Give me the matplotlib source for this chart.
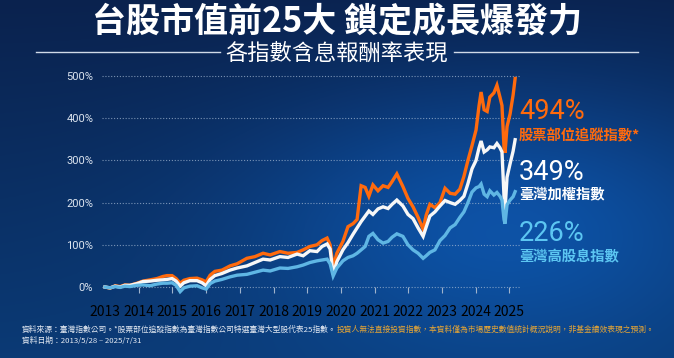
import numpy as np
import matplotlib
matplotlib.use("Agg")
import matplotlib.pyplot as plt
from matplotlib.lines import Line2D

plt.rcParams["font.family"] = ["Noto Sans CJK TC", "DejaVu Sans"]

# decimal years, 2013/5/28 -> 2025/7/31
dates = [2013.40, 2013.55, 2013.70, 2013.85, 2013.99, 2014.14, 2014.35, 2014.53,
         2014.74, 2014.94, 2015.12, 2015.24, 2015.39, 2015.51, 2015.63, 2015.74,
         2015.92, 2016.13, 2016.28, 2016.40, 2016.52, 2016.66, 2016.87, 2017.11,
         2017.32, 2017.61, 2017.85, 2018.09, 2018.30, 2018.59, 2018.83, 2019.10,
         2019.28, 2019.48, 2019.69, 2019.84, 2019.99, 2020.08, 2020.17, 2020.28,
         2020.46, 2020.61, 2020.76, 2020.88, 2021.00, 2021.12, 2021.23, 2021.35,
         2021.50, 2021.65, 2021.80, 2021.92, 2022.06, 2022.24, 2022.39, 2022.54,
         2022.69, 2022.84, 2022.93, 2023.04, 2023.19, 2023.34, 2023.49, 2023.64,
         2023.79, 2023.93, 2024.05, 2024.17, 2024.29, 2024.41, 2024.50, 2024.56,
         2024.65, 2024.74, 2024.82, 2024.94, 2025.03, 2025.12, 2025.18, 2025.24,
         2025.27, 2025.33, 2025.42, 2025.51, 2025.57]

# cumulative total return, %
tracking_25 = [0, -3, 3, 1, 5, 4, 9, 14, 17, 20, 25, 27, 27, 20, 9, 16, 20, 21, 17, 12,
               28, 37, 40, 50, 55, 68, 72, 80, 76, 84, 80, 82, 88, 96, 100, 110, 116,
               100, 48, 80, 108, 143, 150, 160, 240, 236, 215, 242, 228, 240, 236, 250,
               268, 238, 210, 190, 165, 137, 170, 196, 188, 200, 234, 222, 220, 232,
               262, 300, 335, 372, 430, 462, 420, 416, 450, 460, 478, 450, 430, 330,
               318, 380, 410, 455, 494]
taiex = [0, -2, 2, 0, 4, 4, 8, 13, 14, 16, 17, 18, 20, 14, 2, 10, 15, 15, 10, 3,
         18, 27, 32, 40, 45, 50, 58, 66, 64, 72, 70, 78, 74, 86, 84, 96, 102,
         90, 30, 60, 88, 105, 125, 140, 155, 168, 180, 172, 185, 190, 186, 196,
         206, 192, 172, 162, 140, 120, 142, 168, 178, 192, 205, 200, 196, 205,
         215, 245, 280, 300, 330, 346, 320, 325, 332, 330, 340, 330, 320, 215,
         182, 260, 292, 322, 349]
high_div = [0, -2, 1, -1, 2, 1, 4, 5, 3, 7, 9, 9, 10, 4, -11, -2, 2, 3, -2, -5,
            8, 14, 18, 24, 28, 30, 35, 40, 38, 45, 44, 48, 52, 58, 62, 64, 66,
            55, 26, 45, 62, 70, 74, 80, 88, 96, 120, 127, 112, 104, 108, 118,
            126, 120, 100, 88, 80, 68, 74, 82, 88, 110, 122, 140, 148, 165,
            178, 200, 225, 235, 238, 244, 220, 214, 228, 218, 224, 215, 206, 160,
            150, 195, 206, 214, 226]

year_labels = list(range(2013, 2026))
ytick_vals = [0, 100, 200, 300, 400, 500]
series_names = ["股票部位追蹤指數*", "臺灣加權指數", "臺灣高股息指數"]
final_returns = [494, 349, 226]
colors = ["#ff6a0d", "#f7f7f7", "#5fb6e4"]
label_colors = ["#ff6a0d", "#ffffff", "#5cc6f2"]

W, H = 674, 358
fig = plt.figure(figsize=(W / 100, H / 100), dpi=100)

# background gradient
bg = fig.add_axes([0, 0, 1, 1], zorder=-10)
yy, xx = np.mgrid[0:1:200j, 0:1:360j]
top = np.array([0x0a, 0x22, 0x4e]) / 255
bot = np.array([0x0b, 0x3a, 0x75]) / 255
img = top * (1 - yy[..., None]) + bot * yy[..., None]
glow = np.exp(-(((xx - 0.75) / 0.38) ** 2 + ((yy - 0.6) / 0.38) ** 2))
img = img + glow[..., None] * np.array([0.01, 0.13, 0.25])
bg.imshow(np.clip(img, 0, 1), aspect="auto", extent=[0, 1, 0, 1], origin="upper")
bg.axis("off")

# chart axes (pixel layout)
x0, x1 = 2013.30, 2025.70
ymin, ymax = -30, 520
px_year, px_pct = 33.7, 0.422
left_px = 105 - (dates[0] - x0) * px_year
right_px = 105 + (x1 - dates[0]) * px_year
bot_px = 287 + (0 - ymin) * px_pct
top_px = 287 - ymax * px_pct
ax = fig.add_axes([left_px / W, 1 - bot_px / H, (right_px - left_px) / W, (bot_px - top_px) / H])
ax.set_facecolor("none")
ax.set_xlim(x0, x1)
ax.set_ylim(ymin, ymax)

for vals, c, z in zip([tracking_25, taiex, high_div], colors, [3, 4, 5]):
    ax.plot(dates, vals, color=c, lw=2.4, solid_joinstyle="miter", zorder=z)

ax.set_yticks(ytick_vals)
ax.set_yticklabels([f"{v}%" for v in ytick_vals], family="Roboto", fontsize=8,
                   color="#dde5f0")
ax.grid(axis="y", linestyle=(0, (1, 1.6)), color="#a9bdd6", lw=0.8, alpha=0.7)
ax.tick_params(axis="y", length=0, pad=6)

ax.set_xticks(dates[0] + np.arange(len(year_labels)))
ax.set_xticklabels([str(y) for y in year_labels], family="Roboto", fontsize=8,
                   color="#e4eaf3")
ax.spines["bottom"].set_position(("data", 0))
ax.tick_params(axis="x", direction="out", length=4, width=0.8, color="#9fb3cc", pad=9)
ax.xaxis.get_major_ticks()[0].tick1line.set_visible(False)
for s in ax.spines.values():
    s.set_color("none")

# end-of-line annotations
num_base = [119, 180, 241]
name_mid = [136, 194, 257]
for name, ret, c, yb, ym in zip(series_names, final_returns, label_colors, num_base, name_mid):
    fig.text(519 / W, 1 - yb / H, f"{ret}%", family="Roboto", fontsize=19.5,
             color=c, va="baseline", ha="left")
    fig.text(519 / W, 1 - ym / H, name, fontsize=10.3, fontweight="bold",
             color=c, va="center", ha="left")

# titles
fig.text(0.5, 1 - 22 / H, "台股市值前25大 鎖定成長爆發力", fontsize=24.5, fontweight="bold",
         color="white", ha="center", va="center")
fig.text(0.5, 1 - 53 / H, "各指數含息報酬率表現", fontsize=16, color="white",
         ha="center", va="center")
for a, b in [(36, 220), (454, 638)]:
    fig.add_artist(Line2D([a / W, b / W], [1 - 52 / H, 1 - 52 / H], color="#d0dae8", lw=1,
                          transform=fig.transFigure))

# footer
renderer = fig.canvas.get_renderer()
t1 = fig.text(22 / W, 1 - 330 / H,
              "資料來源：臺灣指數公司。*股票部位追蹤指數為臺灣指數公司特選臺灣大型股代表25指數。",
              fontsize=5.6, color="#e4eaf3", va="center", ha="left")
ext = t1.get_window_extent(renderer=renderer)
fig.text(ext.x1 / W, 1 - 330 / H,
         "投資人無法直接投資指數，本資料僅為市場歷史數值統計概況說明，非基金績效表現之預測。",
         fontsize=5.6, color="#e8a634", va="center", ha="left")
fig.text(22 / W, 1 - 341 / H, "資料日期：2013/5/28 – 2025/7/31", fontsize=5.6,
         color="#e4eaf3", va="center", ha="left")

fig.savefig("out.png", dpi=100)
plt.close(fig)
